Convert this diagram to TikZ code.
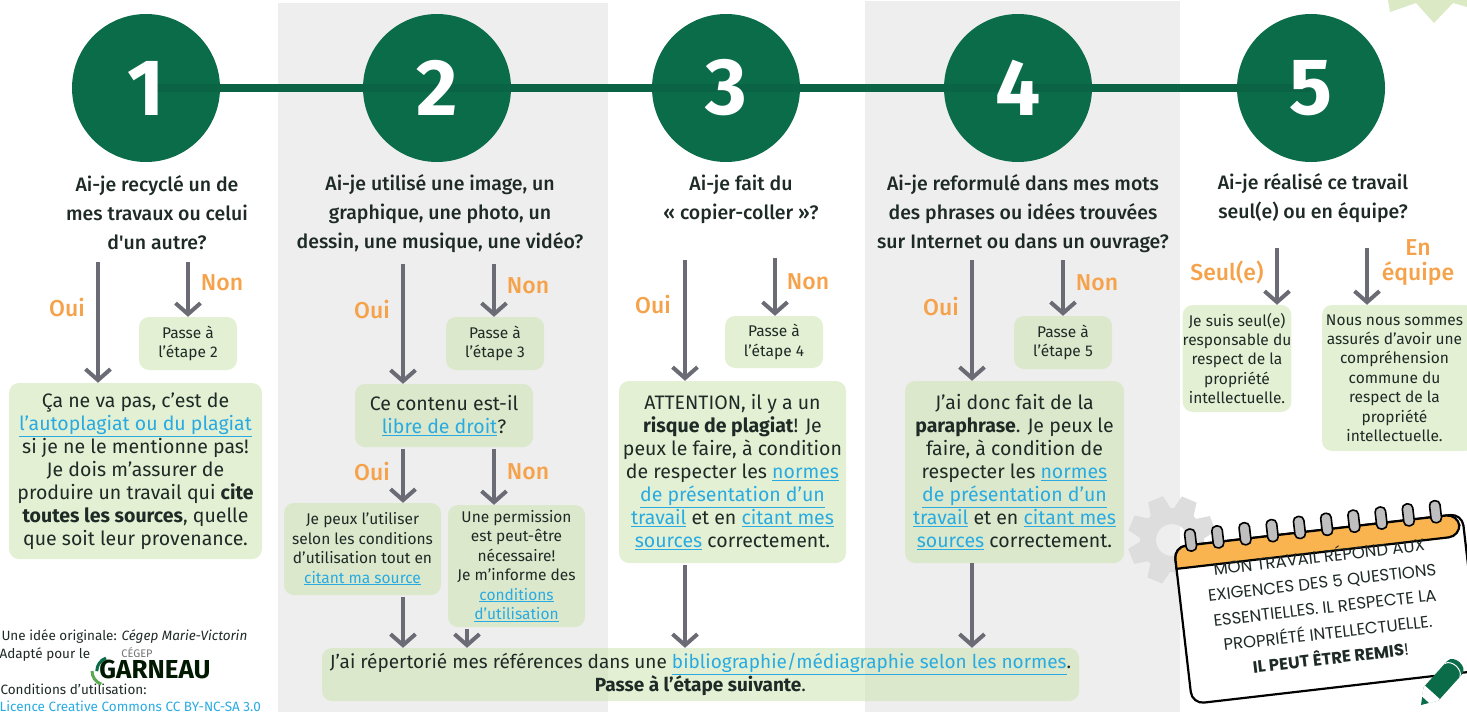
\documentclass[tikz,border=0pt]{standalone}
\usepackage{fontspec}
\setmainfont{Fira Sans}
\newfontfamily\hdfont{Fira Sans Medium}
\newfontfamily\nbfont{Poppins}
\usetikzlibrary{arrows.meta}
\definecolor{dgreen}{HTML}{0B6C4A}
\definecolor{lgreen}{HTML}{DBE9C4}
\definecolor{boxc}{HTML}{CCE4AF}
\definecolor{panel}{HTML}{EEEEEE}
\definecolor{gearc}{HTML}{DDDDDD}
\definecolor{lnk}{HTML}{29ABE2}
\definecolor{orng}{HTML}{F5A24B}
\definecolor{nborng}{HTML}{F9B44F}
\definecolor{arrg}{HTML}{6B6B75}
\definecolor{txt}{HTML}{1E2A26}
\newcommand{\lk}[1]{{\color{lnk}\underline{#1}}}
\newcommand{\bx}[7]{\node[boxbase,#6,minimum width={(#4-#2)*1pt},minimum height={(#5-#3)*1pt}] (#1) at ({(#2+#4)/2},{(#3+#5)/2}) {#7};}
\tikzset{
 boxbase/.style={rounded corners=10pt,inner sep=0pt,align=center,text=txt,fill=boxc,fill opacity=.55,text opacity=1},
 big/.style={font=\fontsize{19.5}{23}\selectfont},
 small/.style={font=\fontsize{15.5}{19.4}\selectfont},
 head/.style={font=\hdfont\fontsize{19.5}{29}\selectfont,align=center,text=txt},
 yn/.style={font=\hdfont\fontsize{23}{25}\selectfont,text=orng,align=center},
 num/.style={circle,fill=dgreen,minimum size=148pt,inner sep=0pt},
 digit/.style={font=\bfseries\fontsize{80}{80}\selectfont,text=white},
 arr/.style={draw=arrg,line width=4pt,-{Straight Barb[length=11pt,width=25pt,line width=4pt]}},
 foot/.style={font=\fontsize{13.5}{17}\selectfont,anchor=west,text=txt},
 ringst/.style={draw=black,line width=1.6pt,fill=black!25,rounded corners=4.5pt},
 nbtext/.style={font=\nbfont\fontsize{16.5}{25.5}\selectfont,align=center,text=txt,transform shape},
}
\begin{document}
\begin{tikzpicture}[x=1pt,y=-1pt]
\useasboundingbox (0,0) rectangle (1467,712);
\clip (0,0) rectangle (1467,712);
% panels
\fill[panel] (278,3) rectangle (608,712);
\fill[panel] (865,1) rectangle (1180,712);
% star
\fill[lgreen] (1388,0) -- (1390,12) -- (1416,3) -- (1434,23) -- (1453,3) -- (1467,7) -- (1467,0) -- cycle;
% circles
\node[num] (c1) at (146,88) {};
\node[num] (c2) at (437,88) {};
\node[num] (c3) at (726,88) {};
\node[num] (c4) at (1018,88) {};
\node[num] (c5) at (1311,88) {};
\draw[line width=8pt,draw=dgreen!92!black] (c1.center) -- (c2.center) -- (c3.center) -- (c4.center) -- (c5.center);
\node[digit] (d1) at (146,88) {1};
\node[digit] (d2) at (437,88) {2};
\node[digit] (d3) at (726,88) {3};
\node[digit] (d4) at (1018,88) {4};
\node[digit] (d5) at (1311,88) {5};
% headings
\node[head] (h1) at (157,213) {Ai-je recyclé un de\\mes travaux ou celui\\d'un autre?};
\node[head] (h2) at (440,214) {Ai-je utilisé une image, un\\graphique, une photo, un\\dessin, une musique, une vidéo?};
\node[head] (h3) at (741,199) {Ai-je fait du\\« copier-coller »?};
\node[head] (h4) at (1023,214) {Ai-je reformulé dans mes mots\\des phrases ou idées trouvées\\sur Internet ou dans un ouvrage?};
\node[head] (h5) at (1313,198) {Ai-je réalisé ce travail\\seul(e) ou en équipe?};
% gear
\begin{scope}[shift={(1172,540)}]
 \draw[gearc,line width=16pt] (0,0) circle (24pt);
 \foreach \a in {22,67,...,337}{
  \fill[gearc,rotate=\a] (-11,-28) -- (-8,-44) -- (8,-44) -- (11,-28) -- cycle;
 }
\end{scope}
% boxes
\bx{p1}{139}{317}{237}{370}{small}{Passe à\\l'étape 2}
\bx{b1}{9}{383}{262}{559}{big}{Ça ne va pas, c'est de\\\lk{l'autoplagiat ou du plagiat}\\si je ne le mentionne pas!\\Je dois m'assurer de\\produire un travail qui \textbf{cite}\\\textbf{toutes les sources}, quelle\\que soit leur provenance.}
\bx{p2}{446}{317}{544}{370}{small}{Passe à\\l'étape 3}
\bx{b2}{355}{384}{533}{447}{big}{Ce contenu est-il\\\lk{libre de droit}?}
\bx{b2l}{284}{503}{441}{595}{small}{Je peux l'utiliser\\selon les conditions\\d'utilisation tout en\\\lk{citant ma source}}
\bx{b2r}{448}{505}{585}{627}{small}{Une permission\\est peut-être\\nécessaire!\\Je m'informe des\\\lk{conditions}\\\lk{d'utilisation}}
\bx{p3}{725}{316}{823}{368}{small}{Passe à\\l'étape 4}
\bx{b3}{619}{381}{846}{563}{big}{ATTENTION, il y a un\\\textbf{risque de plagiat}! Je\\peux le faire, à condition\\de respecter les \lk{normes}\\\lk{de présentation d'un}\\\lk{travail} et en \lk{citant mes}\\\lk{sources} correctement.}
\bx{p4}{1014}{316}{1112}{369}{small}{Passe à\\l'étape 5}
\bx{b4}{905}{381}{1124}{563}{big}{J'ai donc fait de la\\\textbf{paraphrase}. Je peux le\\faire, à condition de\\respecter les \lk{normes}\\\lk{de présentation d'un}\\\lk{travail} et en \lk{citant mes}\\\lk{sources} correctement.}
\bx{b5l}{1188}{305}{1286}{412}{small}{Je suis seul(e)\\responsable du\\respect de la\\propriété\\intellectuelle.}
\bx{b5r}{1322}{305}{1475}{451}{small}{\hspace*{-8pt}Nous nous sommes\\\hspace*{-8pt}assurés d'avoir une\\\hspace*{-8pt}compréhension\\\hspace*{-8pt}commune du\\\hspace*{-8pt}respect de la\\\hspace*{-8pt}propriété\\\hspace*{-8pt}intellectuelle.}
\bx{bot}{322}{648}{1079}{701}{font=\fontsize{19}{23}\selectfont}{J'ai répertorié mes références dans une \lk{bibliographie/médiagraphie selon les normes}.\\\textbf{Passe à l'étape suivante}.}
% labels
\node[yn] (o1) at (67,308) {Oui};
\node[yn] (n1) at (222,283) {Non};
\node[yn] (o2) at (372,310) {Oui};
\node[yn] (n2) at (528,286) {Non};
\node[yn] (o2b) at (372,472) {Oui};
\node[yn] (n2b) at (528,472) {Non};
\node[yn] (o3) at (653,305) {Oui};
\node[yn] (n3) at (808,282) {Non};
\node[yn] (o4) at (941,307) {Oui};
\node[yn] (n4) at (1097,283) {Non};
\node[yn] (s5) at (1227,272) {Seul(e)};
\node[yn,font=\hdfont\fontsize{23}{25}\selectfont] (e5) at (1418,263) {En\\équipe};
% arrows
\coordinate (a1o) at (98,262);
\coordinate (a1n) at (188,262);
\coordinate (a2o) at (403,264);
\coordinate (a2n) at (494,264);
\coordinate (a2oo) at (403,449);
\coordinate (a2nn) at (494,449);
\coordinate (a2d) at (403,597);
\coordinate (a2e) at (467,629);
\coordinate (a3o) at (685,260);
\coordinate (a3n) at (775,258);
\coordinate (a3d) at (685,565);
\coordinate (a4o) at (972,260);
\coordinate (a4n) at (1063,260);
\coordinate (a4d) at (972,563);
\coordinate (a5s) at (1277,248);
\coordinate (a5e) at (1367,248);
\draw[arr] (a1o) -- (a1o |- b1.north);
\draw[arr] (a1n) -- (a1n |- p1.north);
\draw[arr] (a2o) -- (a2o |- b2.north);
\draw[arr] (a2n) -- (a2n |- p2.north);
\draw[arr] (a2oo) -- (a2oo |- b2l.north);
\draw[arr] (a2nn) -- (a2nn |- b2r.north);
\draw[arr] (a2d) -- (a2d |- bot.north);
\draw[arr] (a2e) -- (a2e |- bot.north);
\draw[arr] (a3o) -- (a3o |- b3.north);
\draw[arr] (a3n) -- (a3n |- p3.north);
\draw[arr] (a3d) -- (a3d |- bot.north);
\draw[arr] (a4o) -- (a4o |- b4.north);
\draw[arr] (a4n) -- (a4n |- p4.north);
\draw[arr] (a4d) -- (a4d |- bot.north);
\draw[arr] (a5s) -- (a5s |- b5l.north);
\draw[arr] (a5e) -- (a5e |- b5r.north);
% footer
\node[foot] (f1) at (-2,637) {Une idée originale: \textit{Cégep Marie-Victorin}};
\node[foot] (f2) at (-4,655) {Adapté pour le};
\node[foot] (f3) at (-3,689) {Conditions d'utilisation:};
\node[foot,text=lnk] (f4) at (-4,706) {Licence Creative Commons CC BY-NC-SA 3.0};
% logo
\draw[dgreen,line width=3pt] (106,658) arc (110:180:14pt);
\draw[lgreen!60!green!70!black,line width=3pt] (92,671) arc (180:250:14pt);
\node[font=\fontsize{11}{11}\selectfont,text=black!55,inner sep=0] (lg1) at (137,653) {CÉGEP};
\node[font=\bfseries\fontsize{26}{26}\selectfont,text=black!90!green,inner sep=0] (lg2) at (155,669) {GARNEAU};
% notebook
\begin{scope}[shift={(1174,547)},rotate=6.6]
 \draw[black,line width=2.2pt,fill=white,rounded corners=12pt] (0,0) rectangle (290,158);
 \path[fill=nborng,draw=black,line width=2.2pt,rounded corners=12pt] (0,22) -- (0,0) -- (286,0) -- (286,22) [sharp corners] -- cycle;
 \foreach \i in {0,...,9}{
  \draw[ringst] ({12+27.4*\i},-16) rectangle ({22.5+27.4*\i},6);
 }
 \node[nbtext] (nb) at (143,76) {MON TRAVAIL RÉPOND AUX\\EXIGENCES DES 5 QUESTIONS\\ESSENTIELLES. IL RESPECTE LA\\PROPRIÉTÉ INTELLECTUELLE.\\\textbf{IL PEUT ÊTRE REMIS}!};
\end{scope}
% pencil
\begin{scope}[shift={(1421,705)},rotate=48]
 \fill[dgreen] (0,0) -- (15,-10) -- (50,-10) to[out=0,in=0,looseness=1.3] (50,10) -- (15,10) -- cycle;
 \fill[white] (7,-5) -- (15,-10) -- (17,-10) -- (17,10) -- (15,10) -- (7,5) -- cycle;
 \draw[white,line width=1pt] (47,-10) to[out=-20,in=20,looseness=1] (47,10);
\end{scope}
\end{tikzpicture}
\end{document}
